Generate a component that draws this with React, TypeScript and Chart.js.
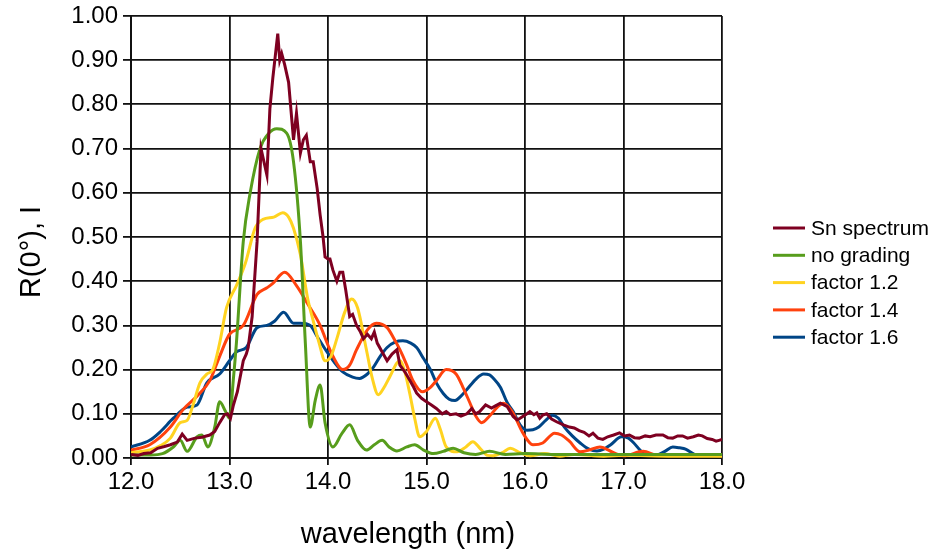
import React, { useEffect, useRef } from "react";
import { Chart, registerables } from "chart.js";

Chart.register(...registerables);

// ---- data (wavelength nm, value) ----
const snSpectrum: number[][] = [
  [12.0, 0.008], [12.07, 0.006], [12.13, 0.01], [12.2, 0.012], [12.27, 0.022], [12.34, 0.026],
  [12.4, 0.03], [12.47, 0.036], [12.52, 0.054], [12.57, 0.04], [12.65, 0.045], [12.72, 0.047],
  [12.8, 0.052], [12.85, 0.06], [12.9, 0.08], [12.95, 0.098], [12.98, 0.1], [13.01, 0.09],
  [13.04, 0.12], [13.08, 0.15], [13.14, 0.22], [13.17, 0.235], [13.19, 0.25], [13.23, 0.32],
  [13.28, 0.49], [13.32, 0.7], [13.35, 0.67], [13.38, 0.64], [13.41, 0.79], [13.44, 0.86],
  [13.49, 0.96], [13.51, 0.9], [13.53, 0.915], [13.56, 0.89], [13.6, 0.85], [13.65, 0.72],
  [13.68, 0.78], [13.72, 0.69], [13.75, 0.72], [13.78, 0.73], [13.82, 0.67], [13.85, 0.67],
  [13.89, 0.61], [13.92, 0.55], [13.95, 0.5], [13.97, 0.455], [14.0, 0.45], [14.02, 0.45],
  [14.05, 0.425], [14.09, 0.4], [14.12, 0.42], [14.15, 0.42], [14.18, 0.38], [14.22, 0.32],
  [14.25, 0.325], [14.29, 0.3], [14.33, 0.285], [14.36, 0.27], [14.4, 0.28], [14.44, 0.27],
  [14.47, 0.285], [14.5, 0.26], [14.55, 0.24], [14.6, 0.22], [14.65, 0.235], [14.7, 0.245],
  [14.73, 0.21], [14.78, 0.195], [14.83, 0.176], [14.87, 0.16], [14.9, 0.147], [14.95, 0.135],
  [15.0, 0.127], [15.05, 0.12], [15.1, 0.112], [15.16, 0.1], [15.2, 0.105], [15.24, 0.098],
  [15.3, 0.1], [15.35, 0.095], [15.41, 0.1], [15.46, 0.112], [15.5, 0.1], [15.54, 0.105],
  [15.6, 0.12], [15.66, 0.113], [15.7, 0.118], [15.75, 0.124], [15.82, 0.116], [15.88, 0.094],
  [15.92, 0.086], [15.95, 0.09], [16.02, 0.1], [16.05, 0.105], [16.09, 0.098], [16.12, 0.102],
  [16.15, 0.09], [16.18, 0.097], [16.22, 0.1], [16.27, 0.088], [16.32, 0.082], [16.39, 0.075],
  [16.45, 0.07], [16.5, 0.068], [16.55, 0.062], [16.6, 0.058], [16.65, 0.05], [16.69, 0.056],
  [16.74, 0.045], [16.79, 0.042], [16.84, 0.048], [16.9, 0.052], [16.96, 0.057], [17.01, 0.05],
  [17.06, 0.052], [17.11, 0.046], [17.16, 0.045], [17.22, 0.05], [17.27, 0.048], [17.33, 0.052],
  [17.4, 0.052], [17.45, 0.046], [17.5, 0.045], [17.55, 0.05], [17.6, 0.05], [17.65, 0.045],
  [17.71, 0.048], [17.76, 0.052], [17.8, 0.05], [17.85, 0.044], [17.9, 0.042], [17.94, 0.038],
  [17.97, 0.04], [18.0, 0.042],
];

const noGrading: number[][] = [
  [12.0, 0.007], [12.2, 0.007], [12.32, 0.01], [12.43, 0.025], [12.5, 0.04], [12.57, 0.015],
  [12.67, 0.048], [12.72, 0.052], [12.78, 0.025], [12.85, 0.07], [12.9, 0.127], [12.96, 0.105],
  [13.0, 0.09], [13.04, 0.18], [13.07, 0.26], [13.14, 0.49], [13.21, 0.6], [13.31, 0.7],
  [13.4, 0.735], [13.48, 0.745], [13.58, 0.735], [13.65, 0.67], [13.72, 0.49], [13.77, 0.26],
  [13.82, 0.07], [13.87, 0.13], [13.92, 0.165], [13.97, 0.08], [14.05, 0.025], [14.14, 0.055],
  [14.22, 0.075], [14.3, 0.04], [14.39, 0.018], [14.47, 0.03], [14.55, 0.04], [14.62, 0.025],
  [14.7, 0.016], [14.8, 0.025], [14.88, 0.03], [14.97, 0.018], [15.07, 0.01], [15.17, 0.015],
  [15.27, 0.022], [15.38, 0.012], [15.5, 0.008], [15.64, 0.015], [15.8, 0.008], [16.0, 0.01],
  [16.3, 0.008], [16.6, 0.008], [17.0, 0.008], [17.5, 0.008], [18.0, 0.008],
];

const factor12: number[][] = [
  [12.0, 0.012], [12.19, 0.018], [12.3, 0.028], [12.4, 0.045], [12.5, 0.08], [12.57, 0.085],
  [12.63, 0.12], [12.7, 0.17], [12.77, 0.19], [12.83, 0.2], [12.9, 0.26], [12.97, 0.34],
  [13.07, 0.39], [13.16, 0.44], [13.26, 0.52], [13.34, 0.54], [13.45, 0.545], [13.54, 0.555],
  [13.6, 0.545], [13.65, 0.52], [13.72, 0.46], [13.79, 0.365], [13.85, 0.31], [13.91, 0.26],
  [13.97, 0.22], [14.03, 0.23], [14.09, 0.27], [14.17, 0.33], [14.24, 0.36], [14.3, 0.34],
  [14.39, 0.245], [14.45, 0.18], [14.51, 0.143], [14.57, 0.16], [14.63, 0.185], [14.7, 0.215],
  [14.73, 0.22], [14.78, 0.195], [14.83, 0.146], [14.88, 0.09], [14.93, 0.048], [15.0, 0.06],
  [15.09, 0.09], [15.14, 0.065], [15.2, 0.025], [15.31, 0.014], [15.4, 0.025], [15.47, 0.037],
  [15.55, 0.02], [15.62, 0.006], [15.68, 0.005], [15.77, 0.012], [15.85, 0.022], [15.95, 0.012],
  [16.05, 0.005], [16.2, 0.01], [16.35, 0.004], [16.5, 0.008], [16.8, 0.004], [17.0, 0.006],
  [17.5, 0.004], [18.0, 0.004],
];

const factor14: number[][] = [
  [12.0, 0.018], [12.19, 0.03], [12.4, 0.07], [12.53, 0.11], [12.67, 0.14], [12.8, 0.175],
  [12.9, 0.23], [13.0, 0.28], [13.14, 0.3], [13.28, 0.37], [13.38, 0.385], [13.44, 0.395],
  [13.56, 0.42], [13.68, 0.39], [13.79, 0.35], [13.92, 0.3], [14.0, 0.255], [14.05, 0.23],
  [14.15, 0.2], [14.22, 0.21], [14.29, 0.245], [14.4, 0.29], [14.49, 0.305], [14.6, 0.295],
  [14.67, 0.27], [14.73, 0.245], [14.8, 0.21], [14.86, 0.176], [14.96, 0.15], [15.04, 0.16],
  [15.1, 0.175], [15.2, 0.2], [15.3, 0.19], [15.37, 0.16], [15.44, 0.125], [15.5, 0.095],
  [15.56, 0.08], [15.64, 0.095], [15.72, 0.115], [15.78, 0.124], [15.87, 0.105], [15.98, 0.056],
  [16.08, 0.03], [16.18, 0.034], [16.3, 0.056], [16.37, 0.052], [16.45, 0.038], [16.56, 0.014],
  [16.65, 0.018], [16.76, 0.025], [16.9, 0.012], [17.0, 0.005], [17.2, 0.015], [17.35, 0.006],
  [17.6, 0.006], [18.0, 0.005],
];

const factor16: number[][] = [
  [12.0, 0.025], [12.19, 0.04], [12.3, 0.06], [12.43, 0.09], [12.57, 0.115], [12.67, 0.12],
  [12.77, 0.17], [12.9, 0.19], [13.0, 0.22], [13.07, 0.24], [13.17, 0.25], [13.28, 0.295],
  [13.38, 0.3], [13.46, 0.31], [13.55, 0.33], [13.65, 0.305], [13.72, 0.305], [13.82, 0.3],
  [13.89, 0.275], [13.99, 0.24], [14.07, 0.215], [14.15, 0.195], [14.25, 0.183], [14.32, 0.18],
  [14.4, 0.19], [14.46, 0.205], [14.53, 0.23], [14.6, 0.25], [14.68, 0.262], [14.76, 0.265],
  [14.84, 0.26], [14.9, 0.25], [14.97, 0.225], [15.04, 0.2], [15.1, 0.17], [15.17, 0.146],
  [15.23, 0.133], [15.29, 0.13], [15.35, 0.14], [15.41, 0.155], [15.5, 0.178], [15.58, 0.19],
  [15.64, 0.188], [15.68, 0.18], [15.75, 0.16], [15.82, 0.125], [15.88, 0.105], [15.95, 0.075],
  [16.02, 0.063], [16.08, 0.064], [16.14, 0.07], [16.21, 0.085], [16.28, 0.097], [16.34, 0.09],
  [16.4, 0.07], [16.48, 0.05], [16.56, 0.034], [16.65, 0.02], [16.73, 0.016], [16.8, 0.02],
  [16.87, 0.03], [16.98, 0.048], [17.05, 0.045], [17.1, 0.035], [17.2, 0.012], [17.34, 0.007],
  [17.42, 0.015], [17.5, 0.025], [17.57, 0.023], [17.63, 0.02], [17.72, 0.008], [17.78, 0.005],
  [18.0, 0.005],
];

const seriesNames = ["Sn spectrum", "no grading", "factor 1.2", "factor 1.4", "factor 1.6"];
const seriesColors = ["#7e0021", "#579d1c", "#ffd320", "#ff420e", "#004586"];
const seriesData = [snSpectrum, noGrading, factor12, factor14, factor16];
const xTitle = "wavelength (nm)";
const yTitle = "R(0°), I";

const FONT = "'Liberation Sans', Arial, sans-serif";

const overlayPlugin = {
  id: "overlay",
  afterDraw(chart: any) {
    const ctx = chart.ctx;
    ctx.save();
    // legend
    ctx.font = `21px ${FONT}`;
    ctx.textBaseline = "middle";
    ctx.textAlign = "left";
    chart.data.datasets.forEach((ds: any, i: number) => {
      const y = 228 + i * 27.3;
      ctx.strokeStyle = ds.borderColor;
      ctx.lineWidth = 3;
      ctx.beginPath();
      ctx.moveTo(773, y);
      ctx.lineTo(805, y);
      ctx.stroke();
      ctx.fillStyle = "#000";
      ctx.fillText(ds.label, 811, y + 1);
    });
    // axis titles
    ctx.font = `29px ${FONT}`;
    ctx.textAlign = "center";
    ctx.textBaseline = "alphabetic";
    ctx.fillStyle = "#000";
    ctx.fillText(xTitle, 408, 543);
    ctx.translate(40, 252);
    ctx.rotate(-Math.PI / 2);
    ctx.fillText(yTitle, 0, 0);
    ctx.restore();
  },
};

export default function App() {
  const ref = useRef<HTMLCanvasElement>(null);
  useEffect(() => {
    if (!ref.current) return;
    const chart = new Chart(ref.current, {
      type: "line",
      data: {
        datasets: seriesData.map((d, i) => ({
          label: seriesNames[i],
          data: d.map((p) => ({ x: p[0], y: p[1] })),
          borderColor: seriesColors[i],
          backgroundColor: seriesColors[i],
          borderWidth: 3,
          pointRadius: 0,
          fill: false,
          tension: i === 0 ? 0 : 0.4,
          cubicInterpolationMode: i === 0 ? "default" : "monotone",
        })),
      },
      options: {
        animation: false,
        responsive: false,
        layout: { padding: { left: 0, right: 210, top: 16, bottom: 0 } },
        plugins: { legend: { display: false }, tooltip: { enabled: false } },
        scales: {
          x: {
            type: "linear",
            min: 12,
            max: 18,
            afterFit: (s: any) => {
              s.height = 95;
              s.paddingLeft = 0;
              s.paddingRight = 0;
            },
            ticks: {
              stepSize: 1,
              callback: (v: any) => Number(v).toFixed(1),
              font: { family: FONT, size: 24 },
              color: "#000",
              padding: 3,
              maxRotation: 0,
            },
            grid: { color: "#111", lineWidth: 1.8, tickLength: 7, drawTicks: true },
            border: { color: "#111", width: 2 },
          },
          y: {
            type: "linear",
            min: 0,
            max: 1,
            afterFit: (s: any) => {
              s.width = 131;
              s.paddingTop = 0;
              s.paddingBottom = 0;
            },
            ticks: {
              stepSize: 0.1,
              callback: (v: any) => Number(v).toFixed(2),
              font: { family: FONT, size: 24 },
              color: "#000",
              padding: 5,
            },
            grid: { color: "#111", lineWidth: 1.8, tickLength: 8 },
            border: { color: "#111", width: 2 },
          },
        },
      },
      plugins: [overlayPlugin],
    } as any);
    return () => chart.destroy();
  }, []);
  return (
    <div style={{ position: "absolute", left: 0, top: 0, width: 932, height: 553, background: "#fff" }}>
      <canvas ref={ref} width={932} height={553} />
    </div>
  );
}
